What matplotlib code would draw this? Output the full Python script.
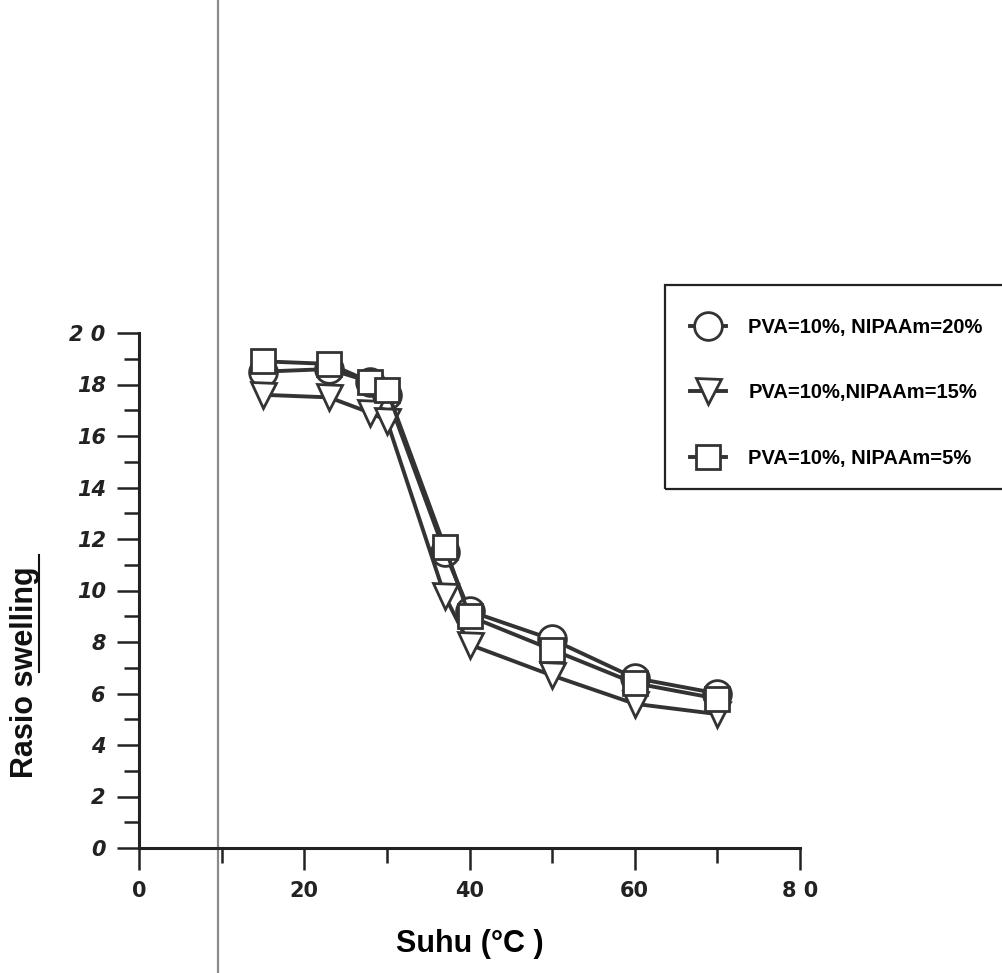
import matplotlib
matplotlib.use("Agg")
import matplotlib.pyplot as plt
from matplotlib.lines import Line2D
from matplotlib.patches import Rectangle

# temperature (C)
suhu = [15, 23, 28, 30, 37, 40, 50, 60, 70]

# swelling ratio per composition
nipaam_20 = [18.5, 18.6, 18.1, 17.6, 11.5, 9.2, 8.1, 6.6, 6.0]
nipaam_15 = [17.6, 17.5, 16.9, 16.6, 9.8, 7.9, 6.7, 5.6, 5.2]
nipaam_5 = [18.9, 18.8, 18.1, 17.8, 11.7, 9.0, 7.7, 6.4, 5.8]

labels = ["PVA=10%, NIPAAm=20%", "PVA=10%,NIPAAm=15%", "PVA=10%, NIPAAm=5%"]

xticks = [0, 20, 40, 60, 80]
xticklabels = ["0", "20", "40", "60", "8 0"]
yticks = [0, 2, 4, 6, 8, 10, 12, 14, 16, 18, 20]
yticklabels = ["0", "2", "4", "6", "8", "10", "12", "14", "16", "18", "2 0"]

W, H = 1003, 973
fig = plt.figure(figsize=(W / 100, H / 100), dpi=100)
fig.patch.set_facecolor("white")

# page fold line from the scan
fig.add_artist(Line2D([218 / W, 218 / W], [0, 1], color="#8a8a8a", lw=1.6, zorder=0.5))

ax = fig.add_axes([139 / W, 1 - 848 / H, (800 - 139) / W, (848 - 333) / H])
ax.set_zorder(1)
ax.set_facecolor("none")

lc = "#333333"
ax.plot(suhu, nipaam_20, color=lc, lw=2.8, marker="o", ms=20, mfc="white",
        mec=lc, mew=2.0, label=labels[0], zorder=3)
ax.plot(suhu, nipaam_15, color=lc, lw=2.8, marker="v", ms=18, mfc="white",
        mec=lc, mew=2.0, label=labels[1], zorder=4)
ax.plot(suhu, nipaam_5, color=lc, lw=2.8, marker="s", ms=17, mfc="white",
        mec=lc, mew=2.0, label=labels[2], zorder=5)

ax.set_xlim(0, 80)
ax.set_ylim(0, 20)
for side in ["top", "right"]:
    ax.spines[side].set_visible(False)
for side in ["left", "bottom"]:
    ax.spines[side].set_linewidth(2.2)
    ax.spines[side].set_color("#222222")

ax.set_xticks(xticks)
ax.set_xticklabels(xticklabels)
ax.set_xticks(range(10, 80, 20), minor=True)
ax.set_yticks(yticks)
ax.set_yticklabels(yticklabels)
ax.set_yticks(range(1, 20, 2), minor=True)
ax.tick_params(which="major", direction="out", length=16, width=1.8, color="#222222",
               labelsize=15, pad=8)
ax.tick_params(which="minor", direction="out", length=11, width=1.8, color="#222222")
for t in ax.get_xticklabels():
    t.set_fontweight("bold")
    t.set_color("#222222")
for t in ax.get_yticklabels():
    t.set_fontweight("bold")
    t.set_fontstyle("italic")
    t.set_color("#222222")

ax.set_xlabel("Suhu (°C )", fontsize=22, fontweight="bold", family="Liberation Sans",
              labelpad=20)

# y label with "swelling" underlined
fig.text(25 / W, 1 - 672 / H, "Rasio swelling", rotation=90, ha="center", va="center",
         fontsize=22, fontweight="bold", family="Liberation Sans", color="#111111")
fig.add_artist(Line2D([39 / W, 39 / W], [1 - 672 / H, 1 - 555 / H], color="#111111", lw=1.5))

# legend box runs off the right edge of the page
fig.add_artist(Rectangle((665 / W, 1 - 489 / H), 400 / W, (489 - 285) / H, fill=False,
                         ec="#222222", lw=1.6, zorder=2))
leg = ax.legend(loc="upper left", bbox_to_anchor=(690 / W, 1 - 318 / H),
                bbox_transform=fig.transFigure, frameon=False, borderpad=0,
                borderaxespad=0, handlelength=1.8, handletextpad=1.1,
                labelspacing=2.3, prop={"family": "Liberation Sans", "weight": "bold",
                                        "size": 14.5})

fig.savefig("out.png", dpi=100)
